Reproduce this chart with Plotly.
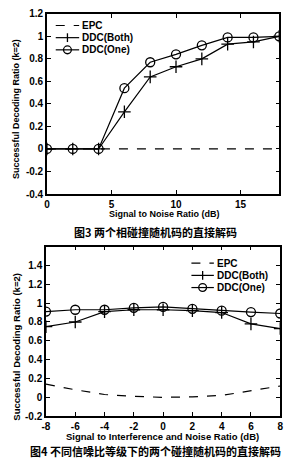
import plotly.graph_objects as go

# ---- data: Fig 3 ----
snr = [0, 2, 4, 6, 8, 10, 12, 14, 16, 18]
epc3 = [0, 0, 0, 0, 0, 0, 0, 0, 0, 0]
both3 = [0, 0, 0, 0.33, 0.64, 0.73, 0.80, 0.93, 0.95, 1.0]
one3 = [0, 0, 0, 0.54, 0.77, 0.84, 0.92, 0.99, 0.99, 1.0]

# ---- data: Fig 4 ----
sinr = [-8, -6, -4, -2, 0, 2, 4, 6, 8]
epc4 = [0.14, 0.08, 0.03, 0.01, 0.0, 0.005, 0.02, 0.07, 0.12]
both4 = [0.75, 0.80, 0.91, 0.93, 0.93, 0.92, 0.90, 0.78, 0.73]
one4 = [0.91, 0.93, 0.93, 0.95, 0.96, 0.94, 0.92, 0.905, 0.89]

series_names = ["EPC", "DDC(Both)", "DDC(One)"]

top_xticks = [0, 5, 10, 15]
top_yticks = [-0.4, -0.2, 0, 0.2, 0.4, 0.6, 0.8, 1, 1.2]
top_yticktext = ["-0.4", "-0.2", "0", "0.2", "0.4", "0.6", "0.8", "1", "1.2"]
bot_xticks = [-8, -6, -4, -2, 0, 2, 4, 6, 8]
bot_xticktext = ["-8", "-6", "-4", "-2", "0", "2", "4", "6", "8"]
bot_yticks = [-0.2, 0, 0.2, 0.4, 0.6, 0.8, 1, 1.2, 1.4]
bot_yticktext = ["-0.2", "0", "0.2", "0.4", "0.6", "0.8", "1", "1.2", "1.4"]

W, H = 293, 466
FONT = "Liberation Sans"
CJK = "Noto Sans CJK SC"

fig = go.Figure()

def add_series(x, epc, both, one, xa, ya):
    fig.add_trace(go.Scatter(x=x, y=epc, mode="lines", name=series_names[0],
                             line=dict(color="black", width=1.2, dash="dash"),
                             xaxis=xa, yaxis=ya, showlegend=False))
    fig.add_trace(go.Scatter(x=x, y=both, mode="lines+markers", name=series_names[1],
                             line=dict(color="black", width=1.2),
                             marker=dict(symbol="cross-thin", size=9, color="black",
                                         line=dict(color="black", width=1.3)),
                             xaxis=xa, yaxis=ya, showlegend=False))
    fig.add_trace(go.Scatter(x=x, y=one, mode="lines+markers", name=series_names[2],
                             line=dict(color="black", width=1.2),
                             marker=dict(symbol="circle-open", size=9, color="black",
                                         line=dict(color="black", width=1.3)),
                             xaxis=xa, yaxis=ya, showlegend=False))

add_series(snr, epc3, both3, one3, "x", "y")
add_series(sinr, epc4, both4, one4, "x2", "y2")

def px_x(p):
    return p / W

def px_y(p):
    return 1 - p / H

axis_common = dict(showline=True, linecolor="black", linewidth=1.5, mirror="ticks",
                   ticks="inside", ticklen=4, tickcolor="black", showgrid=False,
                   zeroline=False,
                   tickfont=dict(family=FONT, size=10, color="black", weight="bold"))

fig.update_layout(
    width=W, height=H, margin=dict(l=0, r=0, t=0, b=0),
    paper_bgcolor="white", plot_bgcolor="white", showlegend=False,
    xaxis=dict(domain=[px_x(44), px_x(282)], range=[0, 18], tickvals=top_xticks,
               anchor="y", ticklabelstandoff=0, **axis_common),
    yaxis=dict(domain=[px_y(193), px_y(8)], range=[-0.4, 1.2], tickvals=top_yticks,
               ticktext=top_yticktext, anchor="x", **axis_common),
    xaxis2=dict(domain=[px_x(43), px_x(283)], range=[-8, 8], tickvals=bot_xticks,
                ticktext=bot_xticktext, anchor="y2", ticklabelstandoff=0, **axis_common),
    yaxis2=dict(domain=[px_y(421), px_y(247)], range=[-0.2, 1.6], tickvals=bot_yticks,
                ticktext=bot_yticktext, anchor="x2", **axis_common),
)

ann_font = dict(family=FONT, size=9, color="black", weight="bold")
ann_font2 = dict(family=FONT, size=9.5, color="black", weight="bold")
annotations = [
    dict(text="Signal to Noise Ratio (dB)", x=px_x(164), y=px_y(213), xref="paper",
         yref="paper", showarrow=False, font=ann_font, xanchor="center", yanchor="middle"),
    dict(text="Successful Decoding Ratio (k=2)", x=px_x(13), y=px_y(106), xref="paper",
         yref="paper", showarrow=False, font=ann_font, textangle=-90,
         xanchor="center", yanchor="middle"),
    dict(text="<b>图3 两个相碰撞随机码的直接解码</b>", x=px_x(155), y=px_y(232), xref="paper",
         yref="paper", showarrow=False, font=dict(family=CJK, size=11, color="black"),
         xanchor="center", yanchor="middle"),
    dict(text="Signal to Interference and Noise Ratio (dB)", x=px_x(162), y=px_y(442),
         xref="paper", yref="paper", showarrow=False, font=ann_font2,
         xanchor="center", yanchor="middle"),
    dict(text="Successful Decoding Ratio (k=2)", x=px_x(13), y=px_y(350), xref="paper",
         yref="paper", showarrow=False, font=ann_font2, textangle=-90,
         xanchor="center", yanchor="middle"),
    dict(text="<b>图4 不同信噪比等级下的两个碰撞随机码的直接解码</b>", x=px_x(155), y=px_y(457),
         xref="paper", yref="paper", showarrow=False,
         font=dict(family=CJK, size=11, color="black"),
         xanchor="center", yanchor="middle"),
]

# ---- hand-drawn legends (MATLAB style, compact) ----
shapes = []
leg_font = dict(family=FONT, size=10, color="black", weight="bold")

def add_legend(x0, x1, ys):
    xc = (x0 + x1) / 2
    for i, (name, yy) in enumerate(zip(series_names, ys)):
        shapes.append(dict(type="line", xref="paper", yref="paper",
                           x0=px_x(x0), x1=px_x(x1), y0=px_y(yy), y1=px_y(yy),
                           line=dict(color="black", width=1.2,
                                     dash="dash" if i == 0 else "solid")))
        if i == 1:
            shapes.append(dict(type="line", xref="paper", yref="paper",
                               x0=px_x(xc), x1=px_x(xc), y0=px_y(yy - 4.5), y1=px_y(yy + 4.5),
                               line=dict(color="black", width=1.3)))
        if i == 2:
            shapes.append(dict(type="circle", xref="paper", yref="paper",
                               x0=px_x(xc - 4), x1=px_x(xc + 4), y0=px_y(yy - 4), y1=px_y(yy + 4),
                               line=dict(color="black", width=1.3), fillcolor="rgba(0,0,0,0)"))
        annotations.append(dict(text=name, x=px_x(x1 + 1), y=px_y(yy), xref="paper",
                                yref="paper", showarrow=False, font=leg_font,
                                xanchor="left", yanchor="middle"))

add_legend(53, 77, [20, 32.5, 45])
add_legend(192, 215, [264, 276.5, 289])

fig.update_layout(annotations=annotations, shapes=shapes)

fig.write_html("out.html")
